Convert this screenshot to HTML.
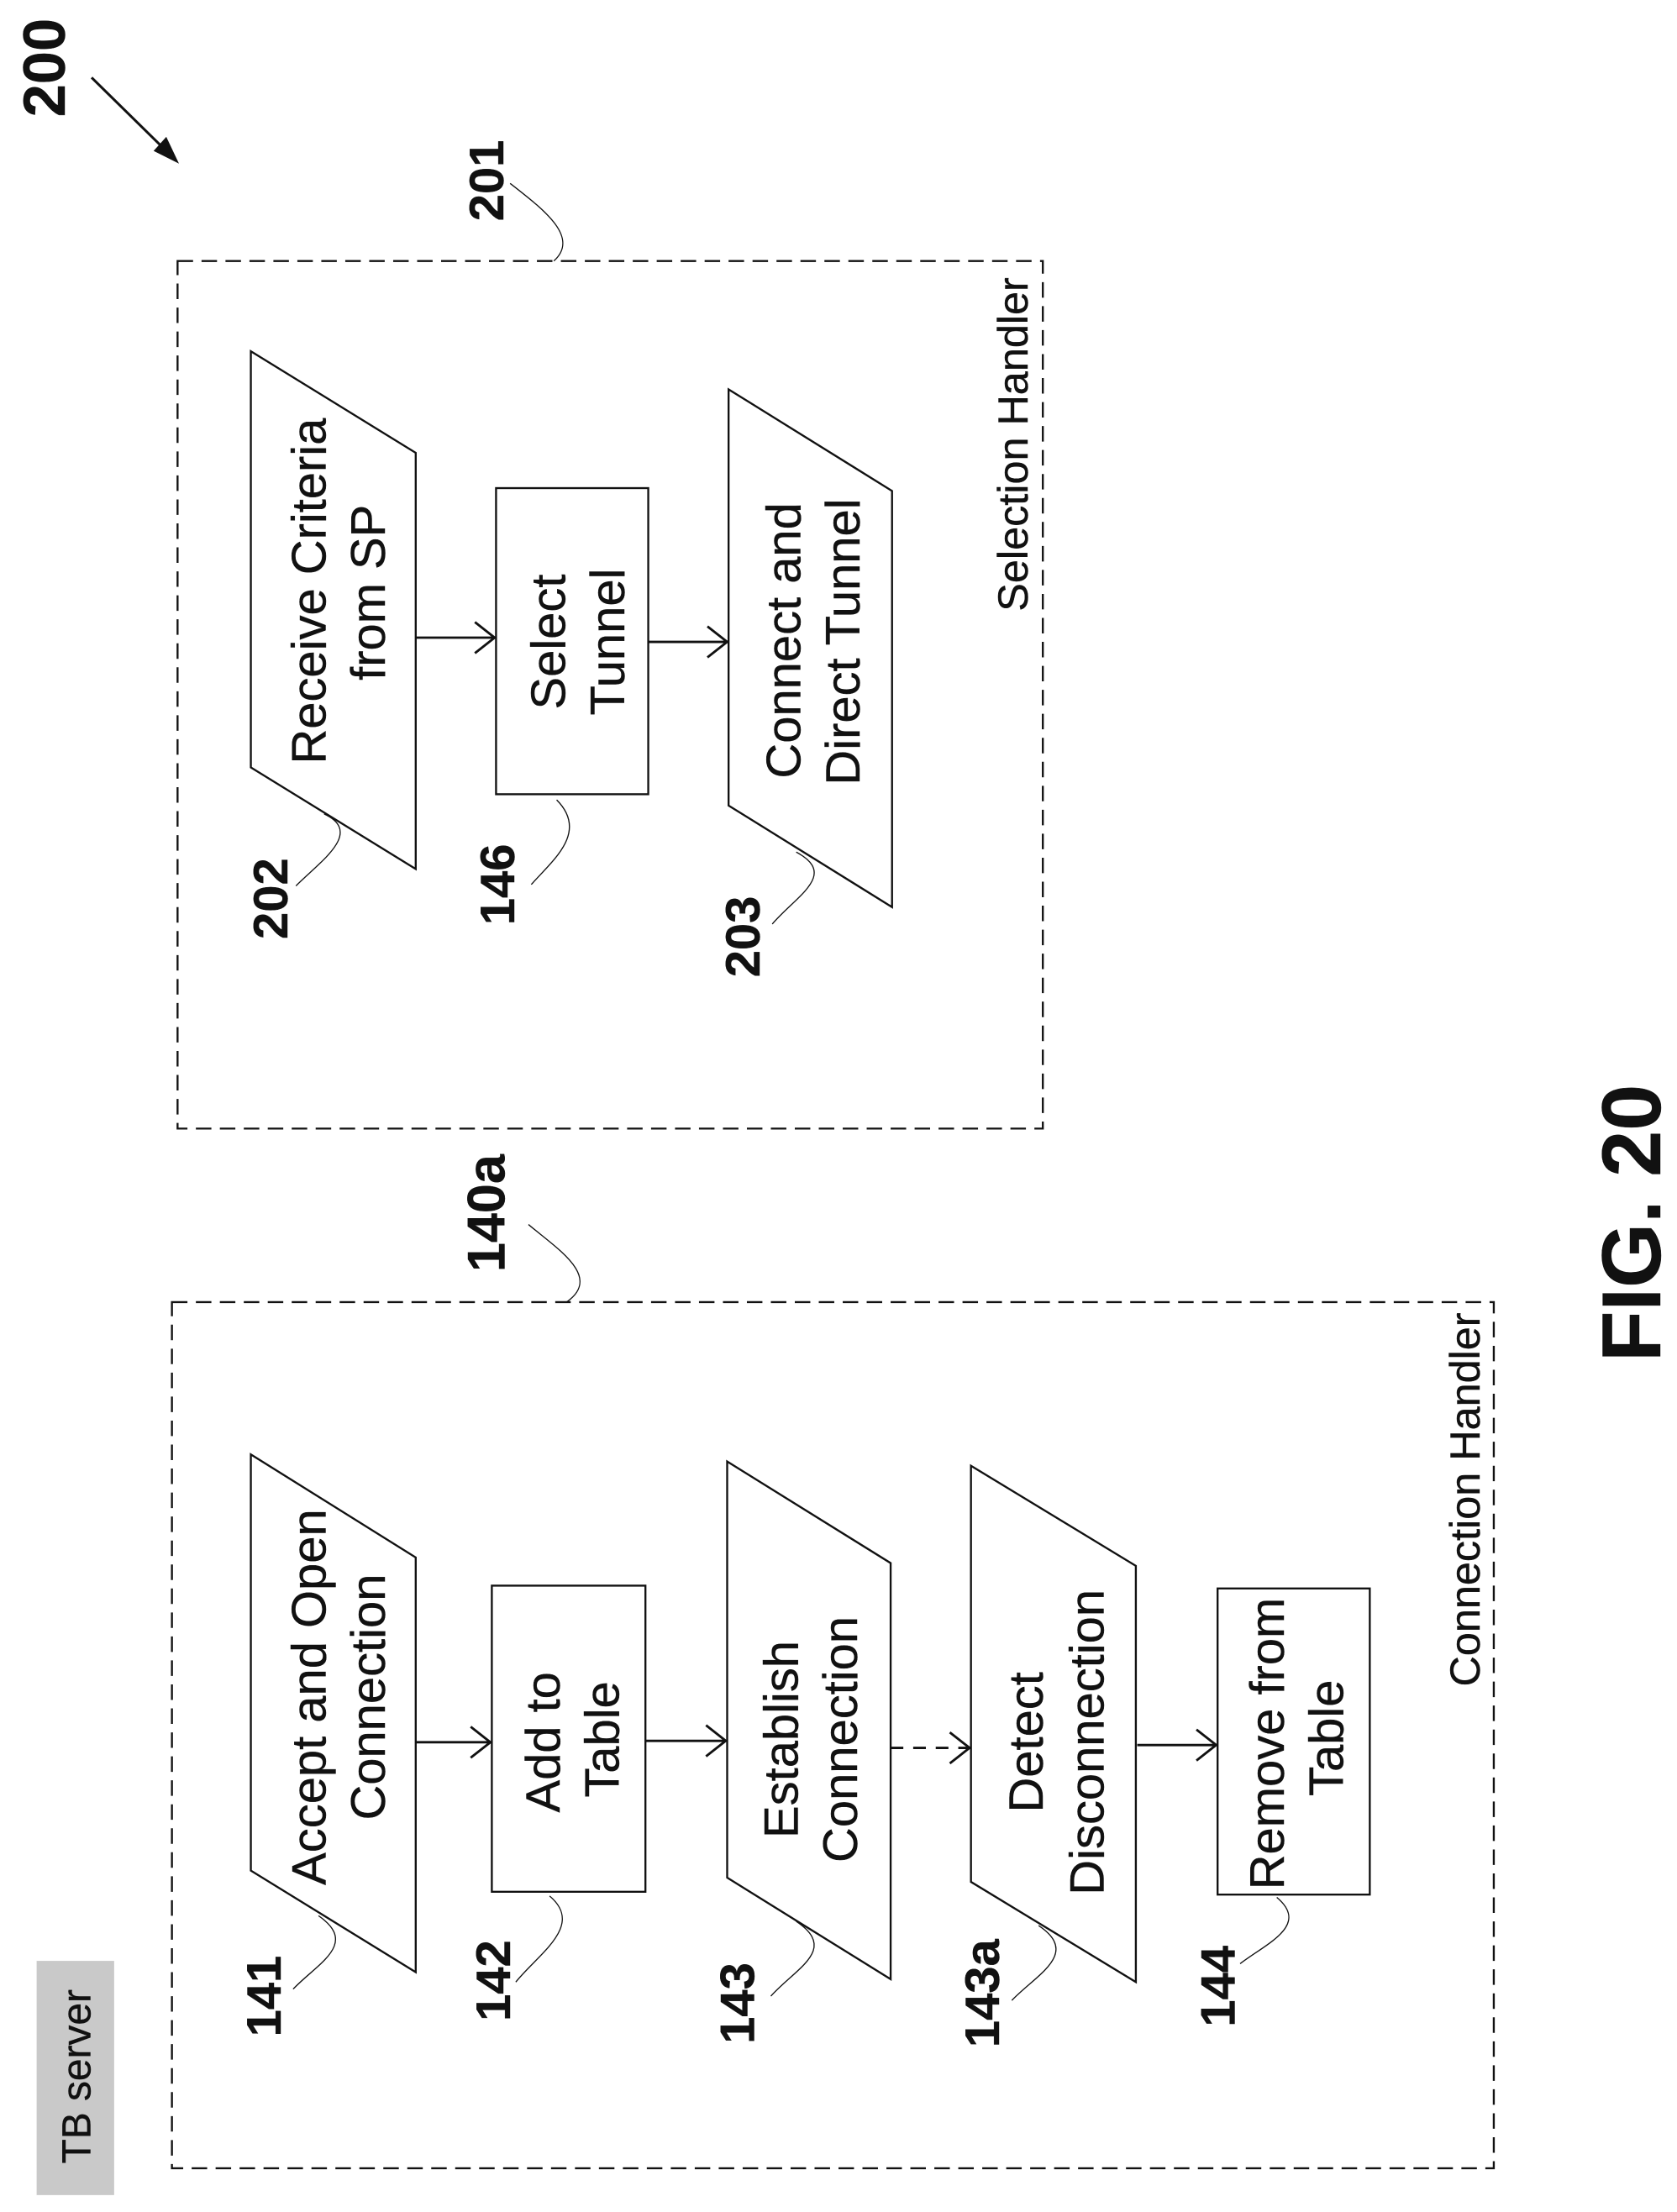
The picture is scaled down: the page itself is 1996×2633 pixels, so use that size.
<!DOCTYPE html>
<html><head><meta charset="utf-8"><style>
html,body{margin:0;padding:0;background:#fff}
svg{display:block}
text{font-family:"Liberation Sans",sans-serif;fill:#111;stroke:#111;stroke-width:.25}
.t{font-size:34.5px;text-anchor:middle}
.h{font-size:30px;text-anchor:middle}
.n{font-size:34.5px;font-weight:bold;text-anchor:middle}
.s{fill:#fff;stroke:#111;stroke-width:1.4}
.d{fill:none;stroke:#111;stroke-width:1.4;stroke-dasharray:11 6}
.l{fill:none;stroke:#111;stroke-width:.8}
.a{fill:none;stroke:#111;stroke-width:1.7}
</style></head><body>
<svg width="1996" height="2633" viewBox="0 0 1190 1568" preserveAspectRatio="none" xmlns="http://www.w3.org/2000/svg">
<rect width="1190" height="1568" fill="#fff"/>
<rect class="d" x="126" y="185" width="614" height="615"/>
<rect class="d" x="122" y="923" width="938" height="614"/>
<rect x="26" y="1390" width="55" height="166" fill="#c9c9c9"/>
<polygon class="s" points="178,249 295,321 295,616 178,544"/>
<rect class="s" x="352" y="346" width="108" height="217"/>
<polygon class="s" points="517,276 633,348 633,643 517,571"/>
<polygon class="s" points="178,1031 295,1104 295,1398 178,1326"/>
<rect class="s" x="349" y="1124" width="109" height="217"/>
<polygon class="s" points="516,1036 632,1108 632,1403 516,1331"/>
<polygon class="s" points="689,1039 806,1110 806,1405 689,1334"/>
<rect class="s" x="864" y="1126" width="108" height="217"/>
<path class="a" d="M295 452H351M337 441L351 452L337 463"/>
<path class="a" d="M460 455H516M502 444L516 455L502 466"/>
<path class="a" d="M295 1235H348M334 1224L348 1235L334 1246"/>
<path class="a" d="M458 1234H515M501 1223L515 1234L501 1245"/>
<path class="a" d="M632 1239H688" stroke-dasharray="9 7"/>
<path class="a" d="M674 1228L688 1239L674 1250"/>
<path class="a" d="M807 1237H863M849 1226L863 1237L849 1248"/>
<path d="M65 55L118 107" stroke="#111" stroke-width="1.8" fill="none"/>
<polygon points="127,116 109,107 118,97" fill="#111"/>
<path class="l" d="M362 130C385 148 412 168 393 185"/>
<path class="l" d="M210 628C228 610 258 590 230 577"/>
<path class="l" d="M377 627C392 610 418 590 395 567"/>
<path class="l" d="M548 655C565 635 595 620 565 604"/>
<path class="l" d="M208 1410C225 1392 255 1378 226 1358"/>
<path class="l" d="M366 1405C382 1385 415 1365 390 1344"/>
<path class="l" d="M547 1415C565 1395 595 1382 565 1362"/>
<path class="l" d="M718 1418C735 1400 767 1385 737 1365"/>
<path class="l" d="M880 1392C898 1378 930 1365 906 1345"/>
<path class="l" d="M375 868C395 885 428 905 402 923"/>
<text class="t" transform="translate(231,419) rotate(-90)">Receive Criteria</text>
<text class="t" transform="translate(273,420) rotate(-90)">from SP</text>
<text class="t" transform="translate(401,455) rotate(-90)">Select</text>
<text class="t" transform="translate(443,455) rotate(-90)">Tunnel</text>
<text class="t" transform="translate(568,454) rotate(-90)">Connect and</text>
<text class="t" transform="translate(610,455) rotate(-90)">Direct Tunnel</text>
<text class="t" transform="translate(231,1203) rotate(-90)">Accept and Open</text>
<text class="t" transform="translate(273,1203) rotate(-90)">Connection</text>
<text class="t" transform="translate(397,1235) rotate(-90)">Add to</text>
<text class="t" transform="translate(439,1233) rotate(-90)">Table</text>
<text class="t" transform="translate(566,1233) rotate(-90)">Establish</text>
<text class="t" transform="translate(608,1233) rotate(-90)">Connection</text>
<text class="t" transform="translate(740,1235) rotate(-90)">Detect</text>
<text class="t" transform="translate(783,1235) rotate(-90)">Disconnection</text>
<text class="t" transform="translate(911,1236) rotate(-90)">Remove from</text>
<text class="t" transform="translate(953,1232) rotate(-90)">Table</text>
<text class="h" transform="translate(729,315) rotate(-90)">Selection Handler</text>
<text class="h" transform="translate(1050,1063) rotate(-90)">Connection Handler</text>
<text font-size="28.5" text-anchor="middle" transform="translate(64,1472) rotate(-90)">TB server</text>
<text class="n" style="font-size:42px" transform="translate(46,48) rotate(-90)">200</text>
<text class="n" transform="translate(357,128) rotate(-90)">201</text>
<text class="n" transform="translate(204,637) rotate(-90)">202</text>
<text class="n" transform="translate(365,627) rotate(-90)">146</text>
<text class="n" transform="translate(539,664) rotate(-90)">203</text>
<text class="n" style="font-size:37.5px" transform="translate(358,860) rotate(-90)">140a</text>
<text class="n" transform="translate(199,1415) rotate(-90)">141</text>
<text class="n" transform="translate(362,1404) rotate(-90)">142</text>
<text class="n" transform="translate(535,1420) rotate(-90)">143</text>
<text class="n" transform="translate(709,1413) rotate(-90)">143a</text>
<text class="n" transform="translate(876,1408) rotate(-90)">144</text>
<text class="n" style="font-size:59px" transform="translate(1178,867) rotate(-90)">FIG. 20</text>
</svg>
</body></html>
